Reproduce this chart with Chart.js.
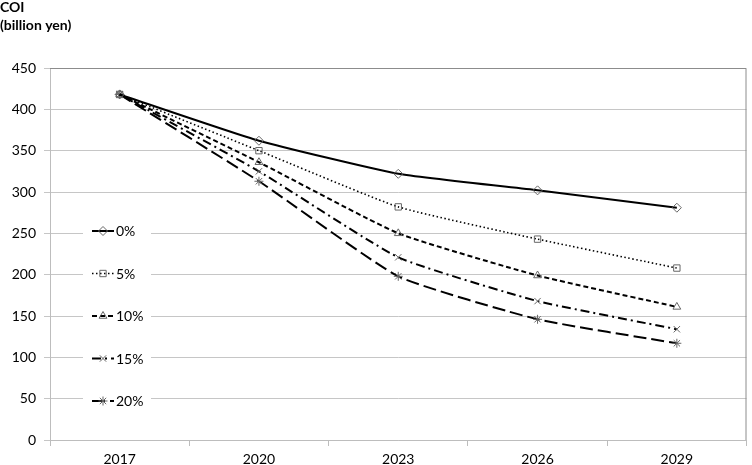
<!DOCTYPE html>
<html>
<head>
<meta charset="utf-8">
<script src="https://cdn.jsdelivr.net/npm/chart.js@4/dist/chart.umd.min.js"></script>
<style>
html,body{margin:0;padding:0;background:#fff;}
#wrap{width:752px;height:465px;position:relative;}
</style>
</head>
<body>
<div id="wrap"><canvas id="c" width="752" height="465"></canvas></div>
<script>
const years = ["2017", "2020", "2023", "2026", "2029"];
const seriesNames = ["0%", "5%", "10%", "15%", "20%"];
const rate0  = [418, 362, 322, 302, 281];
const rate5  = [418, 350, 282, 243, 208];
const rate10 = [418, 336, 250, 199, 161];
const rate15 = [418, 325, 221, 168, 134];
const rate20 = [418, 313, 198, 146, 117];
const yTicks = [0, 50, 100, 150, 200, 250, 300, 350, 400, 450];

const FONT = "Lato, 'Open Sans', sans-serif";
const styles = [
  {dash: [], width: 2, point: 'rectRot'},
  {dash: [1.5, 2.5], width: 1.6, point: 'rect'},
  {dash: [5, 3], width: 2, point: 'triangle'},
  {dash: [9, 4, 2, 4], width: 2, point: 'crossRot'},
  {dash: [13, 5], width: 2, point: 'star'}
];
const values = [rate0, rate5, rate10, rate15, rate20];

const datasets = values.map((v, i) => ({
  label: seriesNames[i],
  data: v,
  borderColor: '#000',
  borderWidth: styles[i].width,
  borderDash: styles[i].dash,
  pointStyle: styles[i].point,
  pointRadius: 4.5,
  pointBorderColor: '#666',
  pointBackgroundColor: 'rgba(0,0,0,0)',
  pointBorderWidth: 1,
  tension: 0.15,
  fill: false
}));

const decor = {
  id: 'decor',
  afterDraw(chart) {
    const ctx = chart.ctx;
    const a = chart.chartArea;
    ctx.save();
    ctx.strokeStyle = '#8c8c8c';
    ctx.lineWidth = 1;
    ctx.beginPath();
    ctx.moveTo(a.left, a.top + 0.5);
    ctx.lineTo(a.right - 0.5, a.top + 0.5);
    ctx.lineTo(a.right - 0.5, a.bottom);
    ctx.stroke();
    ctx.fillStyle = '#000';
    ctx.font = "bold 14px " + FONT;
    ctx.textBaseline = 'middle';
    ctx.textAlign = 'left';
    ctx.fillText('COI', 0, 7);
    ctx.fillText('(billion yen)', 0, 25);
    const x0 = 83, x1 = 151;
    ctx.fillStyle = '#fff';
    ctx.fillRect(x0, 212, x1 - x0, 208);
    chart.data.datasets.forEach((ds, i) => {
      const y = 231 + i * 42.5;
      ctx.strokeStyle = '#000';
      ctx.lineWidth = ds.borderWidth;
      ctx.setLineDash(ds.borderDash);
      ctx.beginPath();
      ctx.moveTo(92, y);
      ctx.lineTo(114, y);
      ctx.stroke();
      ctx.setLineDash([]);
      ctx.strokeStyle = '#666';
      ctx.fillStyle = 'rgba(0,0,0,0)';
      ctx.lineWidth = 1;
      Chart.helpers.drawPoint(ctx, {pointStyle: ds.pointStyle, radius: 4.5, rotation: 0, borderWidth: 1}, 103, y);
      ctx.fillStyle = '#000';
      ctx.font = "14px " + FONT;
      ctx.textBaseline = 'middle';
      ctx.fillText(ds.label, 116, y + 0.5);
    });
    ctx.restore();
  }
};

new Chart(document.getElementById('c'), {
  type: 'line',
  data: {labels: years, datasets},
  options: {
    responsive: false,
    animation: false,
    layout: {padding: {top: 68, right: 2, left: 0, bottom: 0}},
    plugins: {legend: {display: false}, tooltip: {enabled: false}},
    scales: {
      x: {
        type: 'category',
        offset: true,
        afterFit: s => { s.height = 25; },
        grid: {drawOnChartArea: false, drawTicks: true, tickLength: 6, offset: true, color: '#bdbdbd'},
        border: {color: '#bdbdbd'},
        ticks: {color: '#000', font: {family: FONT, size: 14}, padding: 5, maxRotation: 0}
      },
      y: {
        min: 0, max: 450,
        afterFit: s => { s.width = 50; },
        afterBuildTicks: s => { s.ticks = yTicks.map(v => ({value: v})); },
        grid: {color: '#c6c6c6', tickLength: 6},
        border: {color: '#bdbdbd'},
        ticks: {color: '#000', font: {family: FONT, size: 14}, padding: 8}
      }
    }
  },
  plugins: [decor]
});
</script>
</body>
</html>
